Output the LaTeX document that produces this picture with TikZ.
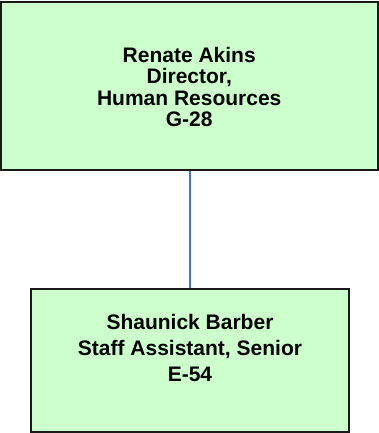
\documentclass[tikz,border=0pt]{standalone}
\usepackage{fontspec}
\setmainfont{Liberation Sans}
\usetikzlibrary{positioning}

\definecolor{boxgreen}{HTML}{CCFFCC}
\definecolor{linkblue}{HTML}{4472C4}

\begin{document}
\begin{tikzpicture}[
	% pixel grid, y downwards
	x=1pt, y=-1pt,
	font=\bfseries,
	box/.style={draw=black!90,fill=boxgreen,line width=2pt,inner sep=0pt},
	txt/.style={align=center,inner sep=0pt},
	link/.style={draw=linkblue,line width=2pt}
	]
	\useasboundingbox (0,0) rectangle (379,433);
	
	%
	% Boxes
	%
	\node[box,minimum width=376.5pt,minimum height=168pt] (director) at (189.25,86) {};
	\node[box,minimum width=318pt,minimum height=143.5pt] (assistant) at (189.5,360.25) {};
	
	%
	% Texts
	%
	\node[txt,font=\fontsize{21}{21.5}\selectfont\bfseries] (directortxt) at ([yshift=-1pt]director.center)
		{Renate Akins\\Director,\\Human Resources\\G-28};
	\node[txt,font=\fontsize{21}{26}\selectfont\bfseries] (assistanttxt) at (190,348)
		{Shaunick Barber\\Staff Assistant, Senior\\E-54};
	
	% reporting line
	\coordinate (linktop) at (190,171);
	\draw[link] (linktop) -- (linktop |- assistant.north);
\end{tikzpicture}
\end{document}
